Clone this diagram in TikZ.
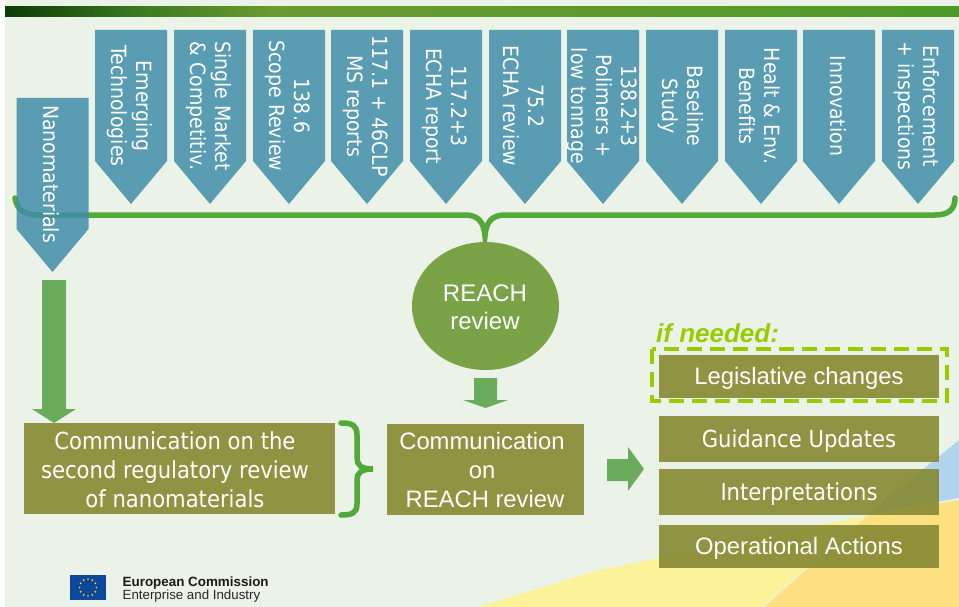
\documentclass[tikz,border=0pt]{standalone}
\usepackage{fontspec}
\setmainfont{DejaVu Sans Condensed}
\newfontfamily\arialf{Liberation Sans}
\usetikzlibrary{shapes.geometric}
\definecolor{bgc}{HTML}{EBF2E8}
\definecolor{pentc}{HTML}{418EA9}
\definecolor{boxc}{HTML}{858931}
\definecolor{circc}{HTML}{7AA347}
\definecolor{arrc}{HTML}{6AAC5C}
\definecolor{bracec}{HTML}{52A838}
\definecolor{dashc}{HTML}{99CC00}
\definecolor{bar0}{HTML}{0A3D05}
\definecolor{bar1}{HTML}{3A7A20}
\definecolor{bar2}{HTML}{6A9A30}
\definecolor{bar3}{HTML}{4E9A2A}
\definecolor{euc}{HTML}{0F479C}
\definecolor{ylw}{HTML}{FBF29A}
\definecolor{org}{HTML}{FDE07F}
\definecolor{blu}{HTML}{B2D4EF}
\pgfdeclarehorizontalshading{barshade}{100bp}{
  color(0bp)=(bar0);
  color(25bp)=(bar0);
  color(32bp)=(bar1);
  color(39bp)=(bar2);
  color(75bp)=(bar3);
  color(100bp)=(bar3)}
\tikzset{
  x=1pt,y=-1pt,
  pent/.style={fill=pentc,fill opacity=.85,draw=none},
  penttext/.style={rotate=-90,text=white,align=center,inner sep=0pt,
    font=\fontsize{21}{25}\selectfont},
  olive/.style={fill=boxc,fill opacity=.9,text opacity=1,text=white,draw=none,align=center,inner sep=0pt,anchor=north west},
  boxtext/.style={text=white,align=center,inner sep=0pt},
  blockarrow/.style={fill=arrc,draw=none},
  curly/.style={draw=bracec,line width=5.5pt,line cap=round,fill=none},
}
\newcommand{\pentagon}[4]{% name, center x, top y, text
  \fill[pent] (#2-36,#3) -- (#2+36,#3) -- (#2+36,#3+131) -- (#2,#3+174) -- (#2-36,#3+131) -- cycle;
  \node[penttext] (#1) at (#2-1,#3+76) {#4};
}
\begin{document}
\begin{tikzpicture}
\useasboundingbox (0,0) rectangle (959,607);
\fill[white] (0,0) rectangle (959,607);
\fill[bgc] (5,0) rectangle (959,607);
% background corner
\fill[ylw] (478,607) -- (600,570) -- (865,516) -- (762,607) -- cycle;
\fill[org] (764,607) -- (867,516) -- (959,500) -- (959,607) -- cycle;
\fill[blu] (959,440) -- (868,514) -- (959,498) -- cycle;
% bar
\shade[shading=barshade] (5,7) rectangle (959,17);
% top brace
\draw[curly] (15,198) .. controls (17,210) and (24,215) .. (40,215) -- (465,215)
  .. controls (478,215) and (484,222) .. (485,236)
  .. controls (486,222) and (492,215) .. (505,215) -- (935,215)
  .. controls (948,215) and (955,210) .. (955,198);
% pentagons
\pentagon{p0}{52.5}{98}{Nanomaterials}
\pentagon{p1}{131}{30}{Emerging\\Technologies}
\pentagon{p2}{210}{30}{Single Market\\\& Competitiv.}
\pentagon{p3}{289}{30}{138.6\\Scope Review}
\pentagon{p4}{367}{30}{117.1 + 46CLP\\MS reports}
\pentagon{p5}{446}{30}{117.2+3\\ECHA report}
\pentagon{p6}{525}{30}{75.2\\ECHA review}
\pentagon{p7}{603}{30}{138.2+3\\Polimers +\\low tonnage}
\pentagon{p8}{682}{30}{Baseline\\Study}
\pentagon{p9}{761}{30}{Healt \& Env.\\Benefits}
\pentagon{p10}{839}{30}{Innovation}
\pentagon{p11}{918}{30}{Enforcement\\+ inspections}
% circle
\node[ellipse,fill=circc,minimum width=147pt,minimum height=128pt,inner sep=0pt] (reach) at (485.5,306) {};
\node[boxtext,font=\arialf\fontsize{24}{28.5}\selectfont] (reacht) at (485,307) {REACH\\review};
% block arrows
\fill[blockarrow] (42,280) -- (66,280) -- (66,409) -- (76,409) -- (54,423) -- (32,409) -- (42,409) -- cycle;
\fill[blockarrow] (474,378) -- (497,378) -- (497,400) -- (508,400) -- (485.5,408) -- (463,400) -- (474,400) -- cycle;
\fill[blockarrow] (607,459) -- (628,459) -- (628,447) -- (644,469) -- (628,491) -- (628,481) -- (607,481) -- cycle;
% boxes
\node[olive,minimum width=311pt,minimum height=91pt] (c1) at (24,423) {};
\node[boxtext,font=\fontsize{23.5}{29}\selectfont] (c1t) at (175,470) {Communication on the\\second regulatory review\\of nanomaterials};
\node[olive,minimum width=197pt,minimum height=91pt] (c2) at (387,424) {};
\node[boxtext,font=\arialf\fontsize{23.8}{29}\selectfont] (c2t) at (482,470) {Communication\\on\\\hspace*{6pt}REACH review};
\node[olive,minimum width=280pt,minimum height=43pt] (leg) at (659,355) {};
\node[boxtext,font=\arialf\fontsize{23.8}{26}\selectfont] (legt) at (799,378.5) {Legislative changes};
\node[olive,minimum width=280pt,minimum height=46pt] (gui) at (659,416) {};
\node[boxtext,font=\fontsize{23.5}{26}\selectfont] (guit) at (799,441.5) {Guidance Updates};
\node[olive,minimum width=280pt,minimum height=46pt] (int) at (659,469) {};
\node[boxtext,font=\fontsize{23.5}{26}\selectfont] (intt) at (799,494.5) {Interpretations};
\node[olive,minimum width=280pt,minimum height=43pt] (ope) at (659,525) {};
\node[boxtext,font=\arialf\fontsize{23.8}{26}\selectfont] (opet) at (799,548) {Operational Actions};
% dashed
\draw[draw=dashc,line width=3.5pt,dash pattern=on 15pt off 8pt] (652,349) rectangle (947,401);
\node[anchor=base west,inner sep=0pt,text=dashc,font=\arialf\bfseries\itshape\fontsize{26}{28}\selectfont] (ifn) at (656,342) {if needed:};
% right brace
\draw[curly] (341,423) .. controls (352,423) and (357,425) .. (357,435) -- (357,458)
  .. controls (357,465) and (361,469) .. (373,469)
  .. controls (361,469) and (357,473) .. (357,480) -- (357,504)
  .. controls (357,513) and (352,515) .. (341,515);
% flag
\fill[euc] (70,575) rectangle (106,600);
\foreach \a in {0,30,...,330}{\fill[yellow!90!orange] (88,587.5) ++(\a:8.5) circle (.9);}
\node[anchor=base west,inner sep=0pt,text=black!90,font=\arialf\bfseries\fontsize{13.4}{14}\selectfont] (ec) at (122.5,586) {European Commission};
\node[anchor=base west,inner sep=0pt,text=black!85,font=\arialf\fontsize{13.3}{14}\selectfont] (ei) at (122.5,599) {Enterprise and Industry};
\end{tikzpicture}
\end{document}
